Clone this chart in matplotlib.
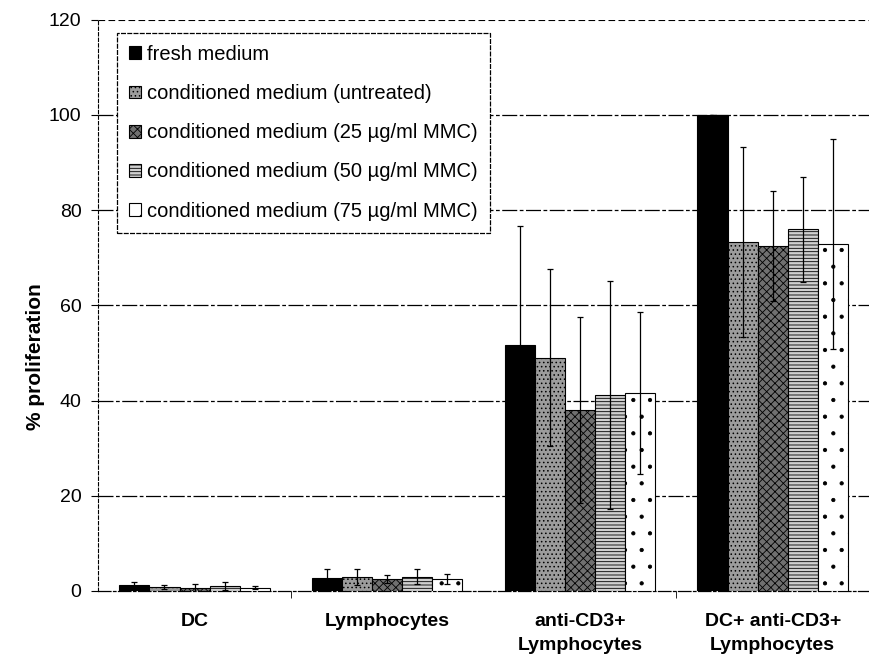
import numpy as np
import matplotlib
matplotlib.use('Agg')
import matplotlib.pyplot as plt

plt.rcParams['font.family'] = ['Liberation Sans', 'DejaVu Sans']
plt.rcParams['hatch.linewidth'] = 0.6

# === Data ===
categories = ['DC', 'Lymphocytes', 'anti-CD3+\nLymphocytes', 'DC+ anti-CD3+\nLymphocytes']
series_names = ['fresh medium',
                'conditioned medium (untreated)',
                'conditioned medium (25 \u00b5g/ml MMC)',
                'conditioned medium (50 \u00b5g/ml MMC)',
                'conditioned medium (75 \u00b5g/ml MMC)']
fresh = [1.2, 2.7, 51.7, 100.0]
untreated = [0.8, 3.0, 49.0, 73.3]
mmc25 = [0.6, 2.5, 38.0, 72.5]
mmc50 = [1.0, 3.0, 41.2, 76.0]
mmc75 = [0.7, 2.5, 41.6, 72.9]
err_fresh = [0.6, 2.0, 25.0, 0.0]
err_untreated = [0.4, 1.7, 18.6, 20.0]
err_25 = [0.9, 0.8, 19.6, 11.5]
err_50 = [0.8, 1.5, 24.0, 11.0]
err_75 = [0.4, 1.0, 17.0, 22.0]

values = [fresh, untreated, mmc25, mmc50, mmc75]
errors = [err_fresh, err_untreated, err_25, err_50, err_75]
styles = [dict(color='black', hatch=None),
          dict(color='#9c9c9c', hatch='....'),
          dict(color='#707070', hatch='xxxx'),
          dict(color='#d0d0d0', hatch='-----'),
          dict(color='white', hatch='.')]

fig = plt.figure(figsize=(8.69, 6.58), dpi=100)
ax = fig.add_axes([0.113, 0.102, 0.887, 0.868])

x = np.arange(len(categories))
w = 0.156
for i, (vals, errs, st) in enumerate(zip(values, errors, styles)):
    pos = x + (i - 2) * w
    ax.bar(pos, vals, w, facecolor=st['color'], edgecolor='black',
           hatch=st['hatch'], linewidth=0.8, label=series_names[i], zorder=3)
    ax.errorbar(pos, vals, yerr=errs, fmt='none', ecolor='black',
                elinewidth=0.9, capsize=2.5, capthick=0.9, zorder=4)

# grid
for yv in [20, 40, 60, 80, 100]:
    ax.axhline(yv, color='black', linewidth=0.9, linestyle=(0, (12, 2, 3, 2)), zorder=1)
ax.axhline(120, color='black', linewidth=0.8, linestyle=(0, (6, 3)), zorder=1)

ax.set_xlim(-0.5, 3.5)
ax.set_ylim(0, 120)
ax.set_yticks(np.arange(0, 121, 20))
ax.set_xticks(x)
ax.set_xticklabels(categories, fontweight='bold', fontsize=14, linespacing=1.5)
ax.set_xticks([0.5, 2.5], minor=True)
ax.tick_params(axis='x', which='major', length=0, pad=16)
ax.tick_params(axis='x', which='minor', length=5, direction='out')
ax.tick_params(axis='y', labelsize=14, length=5, direction='out', pad=7)
ax.set_ylabel('% proliferation', fontsize=15, fontweight='bold')
ax.yaxis.set_label_coords(-0.069, 0.41)

for s in ['top', 'right']:
    ax.spines[s].set_visible(False)
ax.spines['left'].set_linestyle((0, (3, 2)))
ax.spines['left'].set_linewidth(0.8)
ax.spines['bottom'].set_linestyle((0, (10, 2, 2, 2)))
ax.spines['bottom'].set_linewidth(0.9)

leg = ax.legend(loc='upper left', bbox_to_anchor=(0.024, 0.977), fontsize=14.5,
                frameon=True, fancybox=False, edgecolor='black', framealpha=1,
                handlelength=0.6, handleheight=0.6, handletextpad=0.3,
                labelspacing=1.0, borderpad=0.6, borderaxespad=0)
leg.get_frame().set_linewidth(0.9)
leg.get_frame().set_linestyle((0, (4, 1)))

plt.savefig('out.png', dpi=100)
plt.close(fig)
